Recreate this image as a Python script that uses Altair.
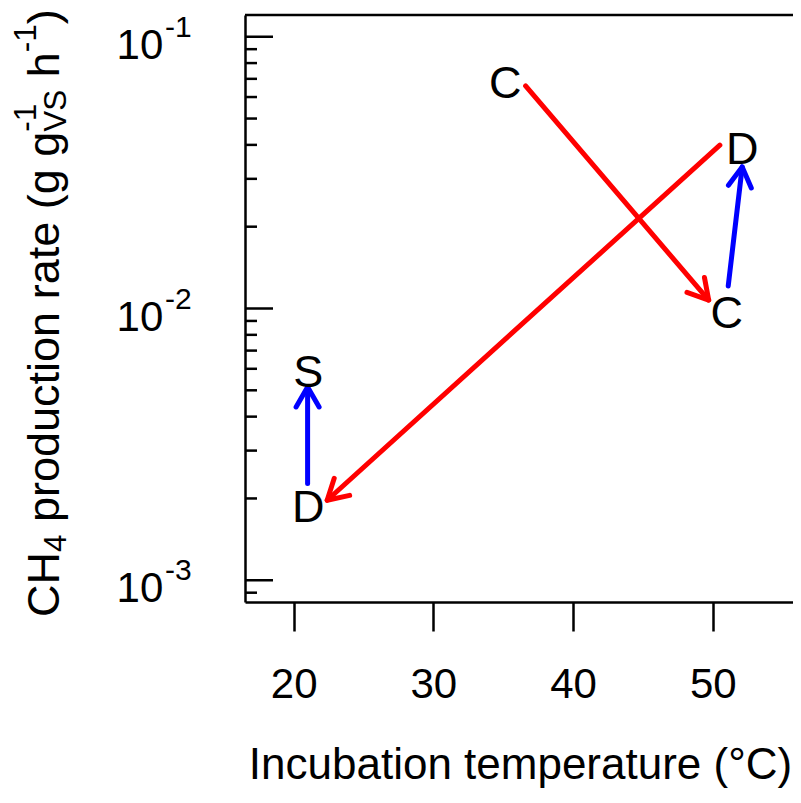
import math
import altair as alt
import pandas as pd

# ---------------- data ----------------
arrow_x0 = [36.6, 50.5, 21.0, 51.1]
arrow_y0 = [0.0659, 0.0399, 0.00227, 0.0121]
arrow_x1 = [49.7, 22.4, 21.0, 52.1]
arrow_y1 = [0.01074, 0.00197, 0.00514, 0.0332]
arrow_color = ["#ff0000", "#ff0000", "#0000ff", "#0000ff"]

label_text = ["C", "D", "C", "S", "D"]
label_x = [35.15, 52.1, 51.0, 21.05, 21.05]
label_y = [0.0687, 0.0393, 0.00977, 0.00593, 0.00189]

x_ticks = [20, 30, 40, 50]
y_major = [0.1, 0.01, 0.001]
y_major_base = ["10", "10", "10"]
y_major_exp = ["-1", "-2", "-3"]
y_minor = [0.0009, 0.002, 0.003, 0.004, 0.005, 0.006, 0.007, 0.008, 0.009,
           0.02, 0.03, 0.04, 0.05, 0.06, 0.07, 0.08, 0.09]

# ---------------- layout ----------------
FONT = "Liberation Sans"
W, H = 548, 587
XMIN = 16.52
XMAX = 16.52 + W / 13.974
YMIN, YMAX = 10 ** -3.08, 10 ** -0.92

xs = alt.Scale(domain=[XMIN, XMAX], nice=False, zero=False)
ys = alt.Scale(type="log", domain=[YMIN, YMAX], nice=False)

xaxis = alt.Axis(values=x_ticks, title="Incubation temperature (°C)", grid=False,
                 domainColor="black", domainWidth=2.5, tickColor="black", tickWidth=2.5,
                 tickSize=29, labelFont=FONT, labelFontSize=42, labelColor="black",
                 labelPadding=66, labelBaseline="alphabetic", labelFlush=False,
                 labelOverlap=False, titleFont=FONT, titleFontSize=44,
                 titleFontWeight="normal", titleColor="black", titleX=275, titleY=176,
                 titleBaseline="alphabetic", titleAlign="center")
yaxis = alt.Axis(grid=False, ticks=False, labels=False, title="", domainColor="black",
                 domainWidth=2.5)


def X(f):
    return alt.X(f, type="quantitative", scale=xs, axis=xaxis)


def Y(f):
    return alt.Y(f, type="quantitative", scale=ys, axis=yaxis)


def to_px(x, y):
    px = (x - XMIN) / (XMAX - XMIN) * W
    py = (math.log10(YMAX) - math.log10(y)) / (math.log10(YMAX) - math.log10(YMIN)) * H
    return px, py


angles = []
for a, b, c, d in zip(arrow_x0, arrow_y0, arrow_x1, arrow_y1):
    p0 = to_px(a, b)
    p1 = to_px(c, d)
    dx, dy = p1[0] - p0[0], p1[1] - p0[1]
    angles.append(math.degrees(math.atan2(dx, -dy)) % 360)

df_arrows = pd.DataFrame({"x0": arrow_x0, "y0": arrow_y0, "x1": arrow_x1,
                          "y1": arrow_y1, "col": arrow_color, "ang": angles})
df_labels = pd.DataFrame({"x": label_x, "y": label_y, "t": label_text})
df_major = pd.DataFrame({"v": y_major, "base": y_major_base, "exp": y_major_exp})
df_minor = pd.DataFrame({"v": y_minor})

shafts = alt.Chart(df_arrows).mark_rule(strokeWidth=5, strokeCap="round").encode(
    x=X("x0"), x2="x1", y=Y("y0"), y2="y1",
    color=alt.Color("col:N", scale=None))

HEAD = "M -0.5 0.866 L 0 0 L 0.5 0.866"
heads = alt.Chart(df_arrows).mark_point(shape=HEAD, filled=False, size=2116,
                                        strokeWidth=5, strokeCap="round",
                                        strokeJoin="round", opacity=1).encode(
    x=X("x1"), y=Y("y1"),
    angle=alt.Angle("ang:Q", scale=None),
    stroke=alt.Stroke("col:N", scale=None))

labels = alt.Chart(df_labels).mark_text(font=FONT, fontSize=45, align="center",
                                        baseline="middle", dy=3, color="black").encode(
    x=X("x"), y=Y("y"), text="t:N")

major_ticks = alt.Chart(df_major).mark_rule(strokeWidth=2.5, color="black").encode(
    y=Y("v"), x=alt.value(0), x2=alt.value(28))
minor_ticks = alt.Chart(df_minor).mark_rule(strokeWidth=2.5, color="black").encode(
    y=Y("v"), x=alt.value(0), x2=alt.value(12))

ylab_base = alt.Chart(df_major).mark_text(font=FONT, fontSize=42, align="right",
                                          baseline="alphabetic", dy=22,
                                          color="black").encode(
    y=Y("v"), x=alt.value(-81.7), text="base:N")
ylab_exp = alt.Chart(df_major).mark_text(font=FONT, fontSize=30, align="left",
                                         baseline="alphabetic", dy=0,
                                         color="black").encode(
    y=Y("v"), x=alt.value(-80), text="exp:N")

top_border = alt.Chart(pd.DataFrame({"k": [0]})).mark_rule(
    strokeWidth=2.5, color="black").encode(
    x=alt.value(0), x2=alt.value(W), y=alt.value(0))

# ---------------- rotated y title built from pieces ----------------
CW = {'C': 722, 'H': 722, ' ': 278, 'p': 556, 'r': 333, 'o': 556, 'd': 556,
      'u': 556, 'c': 500, 't': 278, 'i': 222, 'n': 556, 'a': 556, 'e': 556,
      '(': 333, 'g': 556, 'V': 667, 'S': 667, 'h': 556, ')': 333, '-': 333,
      '1': 556, '4': 556}


def tw(s, size):
    return sum(CW.get(ch, 556) for ch in s) * size / 1000.0


MAIN, SCR = 45, 31.5
BASE_X = -186
SUB, SUP = 7, -23
seq = [
    [("CH", MAIN, 0)],
    [("4", SCR, SUB)],
    [(" production rate (g g", MAIN, 0)],
    [("-1", SCR, SUP), ("VS", SCR, SUB)],
    [(" h", MAIN, 0)],
    [("-1", SCR, SUP)],
    [(")", MAIN, 0)],
]

title_layers = []
pos = 602.0
for group in seq:
    adv = 0
    for text, size, shift in group:
        lead = (len(text) - len(text.lstrip())) * 0.278 * size
        body = text.strip()
        title_layers.append(
            alt.Chart(pd.DataFrame({"t": [body]})).mark_text(
                font=FONT, fontSize=size, angle=270, align="left",
                baseline="alphabetic", color="black").encode(
                x=alt.value(BASE_X + shift), y=alt.value(pos - lead), text="t:N"))
        adv = max(adv, lead + tw(body, size))
    pos -= adv

chart = alt.layer(shafts, heads, labels, major_ticks, minor_ticks, ylab_base, ylab_exp,
                  top_border, *title_layers).properties(
    width=W, height=H,
    padding={"left": 237, "top": 7, "right": 0, "bottom": 186},
    autosize=alt.AutoSizeParams(type="none"),
    background="white",
).configure_view(stroke=None)

chart.save("out.html", embed_options={"renderer": "svg", "actions": False})
